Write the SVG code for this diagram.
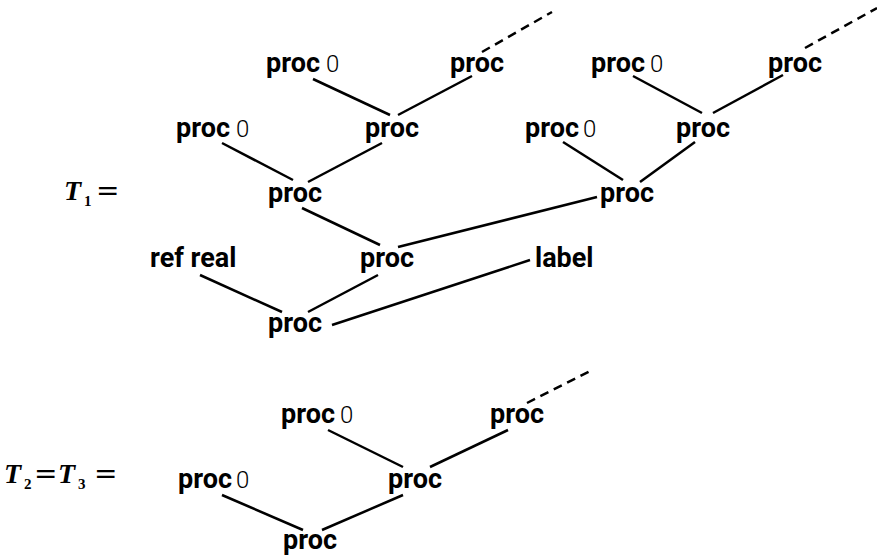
<svg xmlns="http://www.w3.org/2000/svg" width="877" height="558" viewBox="0 0 877 558">
<style>
.n{font-family:Roboto,"Liberation Sans",sans-serif;font-weight:700;font-size:27px;fill:#000}
.z{font-weight:300;font-size:24px}
.t{font-family:"Liberation Serif","DejaVu Serif",serif;font-weight:700;font-style:italic;font-size:28px;fill:#000}
.s{font-size:15px;font-style:normal}
.eq{font-family:"DejaVu Serif",serif;font-style:normal;font-weight:400;font-size:28px}
.c line{stroke:#000;stroke-width:2.5;fill:none}
.c .d{stroke-dasharray:9 6}
</style>
<g id="labels">
<text class="t" x="64" y="200">T<tspan class="s" x="84" y="206">1</tspan><tspan class="eq" x="96" y="200">=</tspan></text>
<text class="t" x="4" y="483">T<tspan class="s" x="24" y="489">2</tspan><tspan class="eq" x="34" y="483">=</tspan><tspan x="58" y="483">T</tspan><tspan class="s" x="78" y="489">3</tspan><tspan class="eq" x="94" y="483">=</tspan></text>
</g>
<g class="c" id="connectors">
<line x1="313" y1="79" x2="390" y2="115"/>
<line x1="398" y1="115" x2="472" y2="76"/>
<line class="d" x1="482" y1="52" x2="552" y2="12"/>
<line x1="222" y1="143" x2="293" y2="180"/>
<line x1="382" y1="143" x2="308" y2="182"/>
<line x1="302" y1="208" x2="380" y2="245"/>
<line x1="633" y1="76" x2="702" y2="113"/>
<line x1="713" y1="113" x2="783" y2="75"/>
<line class="d" x1="805" y1="48" x2="877" y2="8"/>
<line x1="563" y1="142" x2="623" y2="180"/>
<line x1="695" y1="142" x2="640" y2="182"/>
<line x1="597" y1="197" x2="398" y2="247"/>
<line x1="200" y1="275" x2="282" y2="312"/>
<line x1="378" y1="275" x2="308" y2="312"/>
<line x1="530" y1="260" x2="332" y2="325"/>
<line class="d" x1="527" y1="403" x2="592" y2="370"/>
<line x1="328" y1="430" x2="403" y2="467"/>
<line x1="430" y1="467" x2="508" y2="430"/>
<line x1="222" y1="495" x2="303" y2="530"/>
<line x1="403" y1="495" x2="322" y2="530"/>
</g>
<g id="n1"><text class="n" x="266" y="72">proc<tspan class="z" x="326">0</tspan></text></g>
<g id="n2"><text class="n" x="450" y="72">proc</text></g>
<g id="n3"><text class="n" x="176" y="137">proc<tspan class="z" x="236">0</tspan></text></g>
<g id="n4"><text class="n" x="365" y="137">proc</text></g>
<g id="n5"><text class="n" x="268" y="202">proc</text></g>
<g id="n6"><text class="n" x="591" y="72">proc<tspan class="z" x="650">0</tspan></text></g>
<g id="n7"><text class="n" x="768" y="72">proc</text></g>
<g id="n8"><text class="n" x="525" y="137">proc<tspan class="z" x="583">0</tspan></text></g>
<g id="n9"><text class="n" x="676" y="137">proc</text></g>
<g id="n10"><text class="n" x="600" y="202">proc</text></g>
<g id="n11"><text class="n" x="150" y="267">ref real</text></g>
<g id="n12"><text class="n" x="360" y="267">proc</text></g>
<g id="n13"><text class="n" x="535" y="267">label</text></g>
<g id="n14"><text class="n" x="268" y="332">proc</text></g>
<g id="b1"><text class="n" x="281" y="423">proc<tspan class="z" x="340">0</tspan></text></g>
<g id="b2"><text class="n" x="490" y="423">proc</text></g>
<g id="b3"><text class="n" x="178" y="488">proc<tspan class="z" x="236">0</tspan></text></g>
<g id="b4"><text class="n" x="388" y="488">proc</text></g>
<g id="b5"><text class="n" x="283" y="549">proc</text></g>
</svg>
